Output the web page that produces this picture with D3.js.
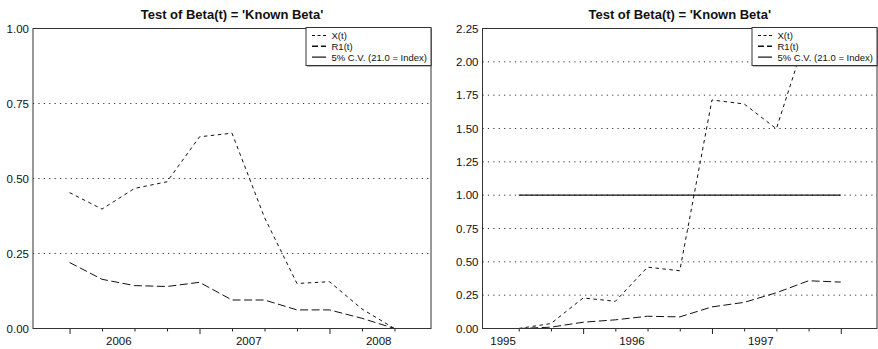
<!DOCTYPE html>
<html>
<head>
<meta charset="utf-8">
<script src="https://cdn.jsdelivr.net/npm/d3@7"></script>
<style>
  html, body { margin: 0; padding: 0; background: #fff; }
  svg { display: block; font-family: "Liberation Sans", Arial, Helvetica, sans-serif; }
</style>
</head>
<body>
<svg id="chart" width="878" height="349"></svg>
<script>
// ---------------- DATA ----------------
const chartTitle = "Test of Beta(t) = 'Known Beta'";
const legendLabels = ["X(t)", "R1(t)", "5% C.V. (21.0 = Index)"];

// Left panel: quarterly, 2006Q1 .. 2008Q3
const leftQuarters = ["2006Q1","2006Q2","2006Q3","2006Q4","2007Q1","2007Q2","2007Q3","2007Q4","2008Q1","2008Q2","2008Q3"];
const leftX  = [0.453, 0.398, 0.467, 0.489, 0.639, 0.651, 0.370, 0.150, 0.156, 0.065, 0.000];
const leftR1 = [0.220, 0.164, 0.143, 0.140, 0.154, 0.095, 0.095, 0.062, 0.062, 0.034, 0.000];
const leftYearLabels = ["2006", "2007", "2008"];
const leftYTicks = [0.00, 0.25, 0.50, 0.75, 1.00];

// Right panel: quarterly, 1995Q3 .. 1998Q1
const rightQuarters = ["1995Q3","1995Q4","1996Q1","1996Q2","1996Q3","1996Q4","1997Q1","1997Q2","1997Q3","1997Q4","1998Q1"];
const rightX  = [0.000, 0.037, 0.229, 0.204, 0.460, 0.433, 1.714, 1.684, 1.498, 2.250, 2.120];
const rightR1 = [0.000, 0.010, 0.047, 0.065, 0.092, 0.087, 0.162, 0.196, 0.268, 0.358, 0.348];
const rightCV = [1.00, 1.00, 1.00, 1.00, 1.00, 1.00, 1.00, 1.00, 1.00, 1.00, 1.00];
const rightYearLabels = ["1995", "1996", "1997"];
const rightYTicks = [0.00, 0.25, 0.50, 0.75, 1.00, 1.25, 1.50, 1.75, 2.00, 2.25];

// ---------------- DRAW ----------------
const svg = d3.select("#chart");

function parseQ(q) { return { year: +q.slice(0, 4), q: +q.slice(5) }; }

function drawPanel(cfg) {
  const { quarters, series, yearLabels, yTicks, left, right, top, bottom, yMax, clipId } = cfg;
  const n = quarters.length;
  const x = d3.scaleLinear().domain([-1.125, n - 1 + 1.125]).range([left, right]);
  const y = d3.scaleLinear().domain([0, yMax]).range([bottom, top]);

  const g = svg.append("g");

  svg.append("defs").append("clipPath").attr("id", clipId)
    .append("rect").attr("x", left).attr("y", top).attr("width", right - left).attr("height", bottom - top);

  // title
  g.append("text")
    .attr("x", (left + right) / 2).attr("y", 19)
    .attr("text-anchor", "middle")
    .attr("font-size", "13px").attr("font-weight", "bold").attr("fill", "#111")
    .text(chartTitle);

  // dotted gridlines
  g.append("g").selectAll("line")
    .data(yTicks.filter(t => t > 0 && t < yMax))
    .join("line")
    .attr("x1", left).attr("x2", right)
    .attr("y1", d => y(d)).attr("y2", d => y(d))
    .attr("stroke", "#333").attr("stroke-width", 1)
    .attr("stroke-dasharray", "1.2,4.2");

  // y labels via axis
  const yAxis = d3.axisLeft(y).tickValues(yTicks).tickFormat(d3.format(".2f")).tickSize(0).tickPadding(4);
  const ya = g.append("g").attr("transform", `translate(${left},0)`).call(yAxis);
  ya.select(".domain").remove();
  ya.selectAll("text").attr("font-size", "11.5px").attr("fill", "#111").attr("font-family", "Liberation Sans, Arial, sans-serif");

  // x ticks: minor at every quarter, major at year starts (Q1)
  const idx = d3.range(n);
  const majorIdx = idx.filter(i => parseQ(quarters[i]).q === 1);
  const minorIdx = idx.filter(i => parseQ(quarters[i]).q !== 1);
  const xMinor = d3.axisBottom(x).tickValues(minorIdx).tickSize(3).tickFormat("");
  const xMajor = d3.axisBottom(x).tickValues(majorIdx).tickSize(5.5).tickFormat("");
  const xm = g.append("g").attr("transform", `translate(0,${bottom})`).call(xMinor);
  xm.select(".domain").remove();
  xm.selectAll("line").attr("stroke", "#222");
  const xM = g.append("g").attr("transform", `translate(0,${bottom})`).call(xMajor);
  xM.select(".domain").remove();
  xM.selectAll("line").attr("stroke", "#222");

  // year labels centered mid-year (quarter index of Q1 + 1.5)
  const firstQ = parseQ(quarters[0]);
  const yearPos = yearLabels.map(yl => (+yl - firstQ.year) * 4 - (firstQ.q - 1) + 1.5);
  const xl = d3.axisBottom(x).tickValues(yearPos)
    .tickFormat((d, i) => yearLabels[i]).tickSize(0).tickPadding(8);
  const xla = g.append("g").attr("transform", `translate(0,${bottom})`).call(xl);
  xla.select(".domain").remove();
  xla.selectAll("text").attr("font-size", "11.5px").attr("fill", "#111").attr("font-family", "Liberation Sans, Arial, sans-serif");

  // series
  const line = d3.line().x((d, i) => x(i)).y(d => y(d));
  const plot = g.append("g").attr("clip-path", `url(#${clipId})`);
  series.forEach(s => {
    if (!s.values) return;
    plot.append("path")
      .attr("d", line(s.values))
      .attr("fill", "none").attr("stroke", "#111")
      .attr("stroke-width", s.width)
      .attr("stroke-dasharray", s.dash);
  });

  // frame
  g.append("rect")
    .attr("x", left).attr("y", top).attr("width", right - left).attr("height", bottom - top)
    .attr("fill", "none").attr("stroke", "#333").attr("stroke-width", 1);

  // legend
  const lw = 125, lh = 38;
  const lx = right - lw, ly = top - 1;
  const lg = g.append("g");
  lg.append("rect").attr("x", lx + 1).attr("y", ly + 1).attr("width", lw).attr("height", lh).attr("fill", "#777");
  lg.append("rect").attr("x", lx).attr("y", ly).attr("width", lw).attr("height", lh)
    .attr("fill", "#fff").attr("stroke", "#333").attr("stroke-width", 1);
  const legendDash = ["3,2.5", "6,3", null];
  const legendWidth = [1, 1.5, 1.2];
  legendLabels.forEach((lab, i) => {
    const ry = ly + 8 + i * 10.8;
    lg.append("line").attr("x1", lx + 6).attr("x2", lx + 20).attr("y1", ry).attr("y2", ry)
      .attr("stroke", "#111").attr("stroke-width", legendWidth[i])
      .attr("stroke-dasharray", legendDash[i]);
    lg.append("text").attr("x", lx + 25.5).attr("y", ry + 3.4)
      .attr("font-size", "9.5px").attr("fill", "#111").text(lab);
  });
}

drawPanel({
  quarters: leftQuarters,
  series: [
    { values: leftX, dash: "3.5,3.5", width: 1 },
    { values: leftR1, dash: "8,3.5", width: 1 }
  ],
  yearLabels: leftYearLabels, yTicks: leftYTicks,
  left: 33, right: 431, top: 28.5, bottom: 328.5, yMax: 1.0, clipId: "clipL"
});

drawPanel({
  quarters: rightQuarters,
  series: [
    { values: rightX, dash: "3.5,3.5", width: 1 },
    { values: rightR1, dash: "8,3.5", width: 1 },
    { values: rightCV, dash: null, width: 1.2 }
  ],
  yearLabels: rightYearLabels, yTicks: rightYTicks,
  left: 482.5, right: 877, top: 28.5, bottom: 328.5, yMax: 2.25, clipId: "clipR"
});
</script>
</body>
</html>
